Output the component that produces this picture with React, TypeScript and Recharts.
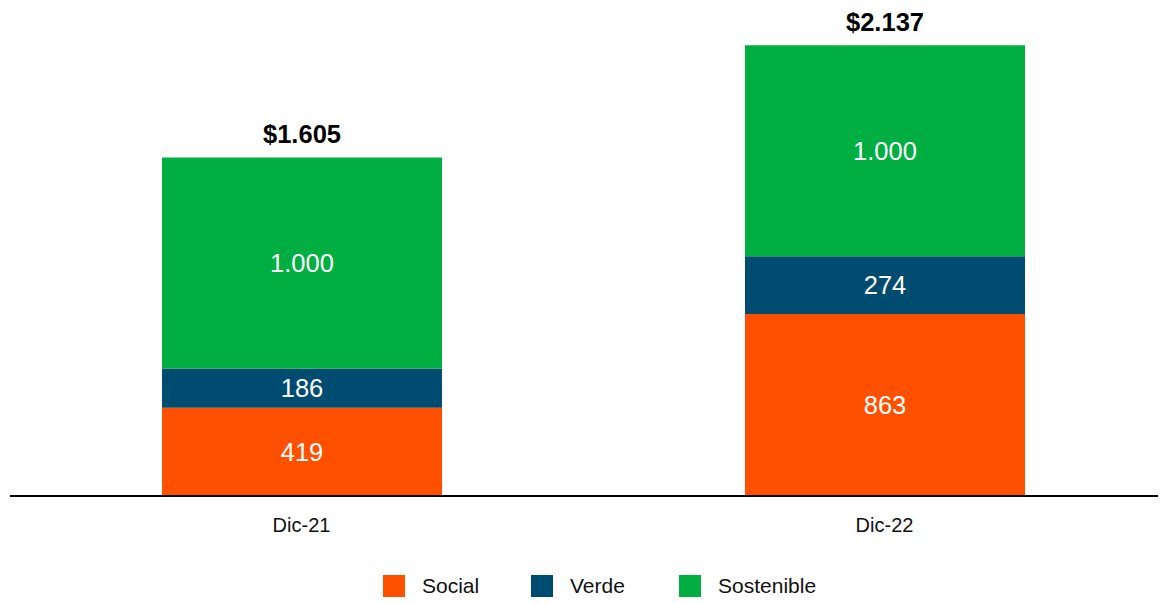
import React from "react";
import { BarChart, Bar, XAxis, YAxis, Legend, LabelList } from "recharts";

const categories = ["Dic-21", "Dic-22"];
const social = [419, 863];
const verde = [186, 274];
const sostenible = [1000, 1000];
const totals = [1605, 2137];

const COLORS = {
    social: "#FF5000",
    verde: "#004C70",
    sostenible: "#00AE42",
};

const FONT = "'Liberation Sans', Arial, sans-serif";

const data = categories.map((name, i) => ({
    name,
    social: social[i],
    verde: verde[i],
    sostenible: sostenible[i],
    total: totals[i],
}));

const fmt = (v: any) => Number(v).toLocaleString("de-DE");
const fmtTotal = (v: any) => "$" + Number(v).toLocaleString("de-DE");

const legendItems = [
    { label: "Social", color: COLORS.social },
    { label: "Verde", color: COLORS.verde },
    { label: "Sostenible", color: COLORS.sostenible },
];

const CustomLegend = () => (
    <div style={{ height: 77, paddingTop: 49, paddingLeft: 375, display: "flex", boxSizing: "border-box" }}>
        {legendItems.map((item) => (
            <div key={item.label} style={{ width: 148, display: "flex", alignItems: "center", height: 22 }}>
                <div style={{ width: 22, height: 22, background: item.color, marginRight: 17 }} />
                <span style={{ fontFamily: FONT, fontSize: 21, color: "#111" }}>{item.label}</span>
            </div>
        ))}
    </div>
);

const App = () => {
    return (
        <div style={{ width: 1158, height: 595, overflow: "hidden" }}>
            <BarChart
                width={1168}
                height={595}
                data={data}
                margin={{ top: 24, right: 0, bottom: 0, left: 2 }}
                barSize={280}
            >
                <XAxis
                    dataKey="name"
                    axisLine={{ stroke: "#000", strokeWidth: 2 }}
                    tickLine={false}
                    tickMargin={16}
                    height={30}
                    tick={{ fill: "#111", fontSize: 20, fontFamily: FONT }}
                />
                <YAxis hide domain={[0, 2200]} />
                <Legend
                    verticalAlign="bottom"
                    content={<CustomLegend />}
                    wrapperStyle={{ left: 0, width: 1168, height: 77 }}
                />
                <Bar dataKey="social" stackId="a" fill={COLORS.social} isAnimationActive={false}>
                    <LabelList dataKey="social" position="center" formatter={fmt} fill="#fff" fontSize={25.5} fontFamily={FONT} />
                </Bar>
                <Bar dataKey="verde" stackId="a" fill={COLORS.verde} isAnimationActive={false}>
                    <LabelList dataKey="verde" position="center" formatter={fmt} fill="#fff" fontSize={25.5} fontFamily={FONT} />
                </Bar>
                <Bar dataKey="sostenible" stackId="a" fill={COLORS.sostenible} isAnimationActive={false}>
                    <LabelList dataKey="sostenible" position="center" formatter={fmt} fill="#fff" fontSize={25.5} fontFamily={FONT} />
                    <LabelList dataKey="total" position="top" offset={14} formatter={fmtTotal} fill="#000" fontSize={25.5} fontWeight="bold" fontFamily={FONT} />
                </Bar>
            </BarChart>
        </div>
    );
};

export default App;
